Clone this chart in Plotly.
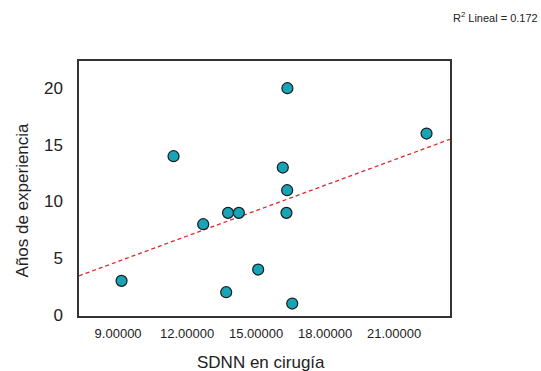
import numpy as np
import plotly.graph_objects as go

sdnn = [9.15, 11.41, 12.70, 13.78, 14.25, 13.70, 15.09, 16.36, 22.41, 16.16, 16.35, 16.32, 16.57]
years = [3, 14, 8, 9, 9, 2, 4, 20, 16, 13, 11, 9, 1]
x_ticks = [9, 12, 15, 18, 21]
x_ticktext = ["9.00000", "12.00000", "15.00000", "18.00000", "21.00000"]
y_ticks = [0, 5, 10, 15, 20]
x_range = [7.3, 23.43]
y_range = [-0.1, 22.4]

slope, intercept = np.polyfit(sdnn, years, 1)
r2 = np.corrcoef(sdnn, years)[0, 1] ** 2
line_x = np.array(x_range)
line_y = slope * line_x + intercept

fig = go.Figure()
fig.add_trace(go.Scatter(
    x=line_x, y=line_y, mode="lines",
    line=dict(color="#e0282e", width=1.3, dash="4px,3px"),
    hoverinfo="skip", showlegend=False))
fig.add_trace(go.Scatter(
    x=sdnn, y=years, mode="markers",
    marker=dict(size=11, color="#16a4b6", line=dict(color="#1a1a1a", width=1.2)),
    showlegend=False))

fig.update_layout(
    width=541, height=371,
    margin=dict(l=79, r=91, t=61, b=55, autoexpand=False),
    paper_bgcolor="white", plot_bgcolor="white",
    font=dict(family="Liberation Sans, Arial, sans-serif", color="#222222"),
    xaxis=dict(range=x_range, tickvals=x_ticks, ticktext=x_ticktext,
               showgrid=False, zeroline=False, showline=True, mirror=True,
               linecolor="#333333", linewidth=1.5, ticks="", automargin=False,
               tickfont=dict(size=13), ticklabelstandoff=5),
    yaxis=dict(range=y_range, tickvals=y_ticks,
               showgrid=False, zeroline=False, showline=True, mirror=True,
               linecolor="#333333", linewidth=1.5, ticks="", automargin=False,
               tickfont=dict(size=17), ticklabelstandoff=11),
    annotations=[
        dict(text=f"R<sup>2</sup> Lineal = {r2:.3f}",
             xref="paper", yref="paper", x=1, y=1,
             xshift=90, yshift=44, xanchor="right", yanchor="middle",
             showarrow=False, font=dict(size=11, color="#222222")),
        dict(text="SDNN en cirugía", xref="paper", yref="paper", x=0.5, y=0,
             xshift=-4, yshift=-46, xanchor="center", yanchor="middle",
             showarrow=False, font=dict(size=17, color="#222222")),
        dict(text="Años de experiencia", xref="paper", yref="paper", x=0, y=0.5,
             xshift=-57, yshift=-12, xanchor="center", yanchor="middle",
             textangle=-90, showarrow=False, font=dict(size=17, color="#222222")),
    ],
)

fig.write_html("out.html")
